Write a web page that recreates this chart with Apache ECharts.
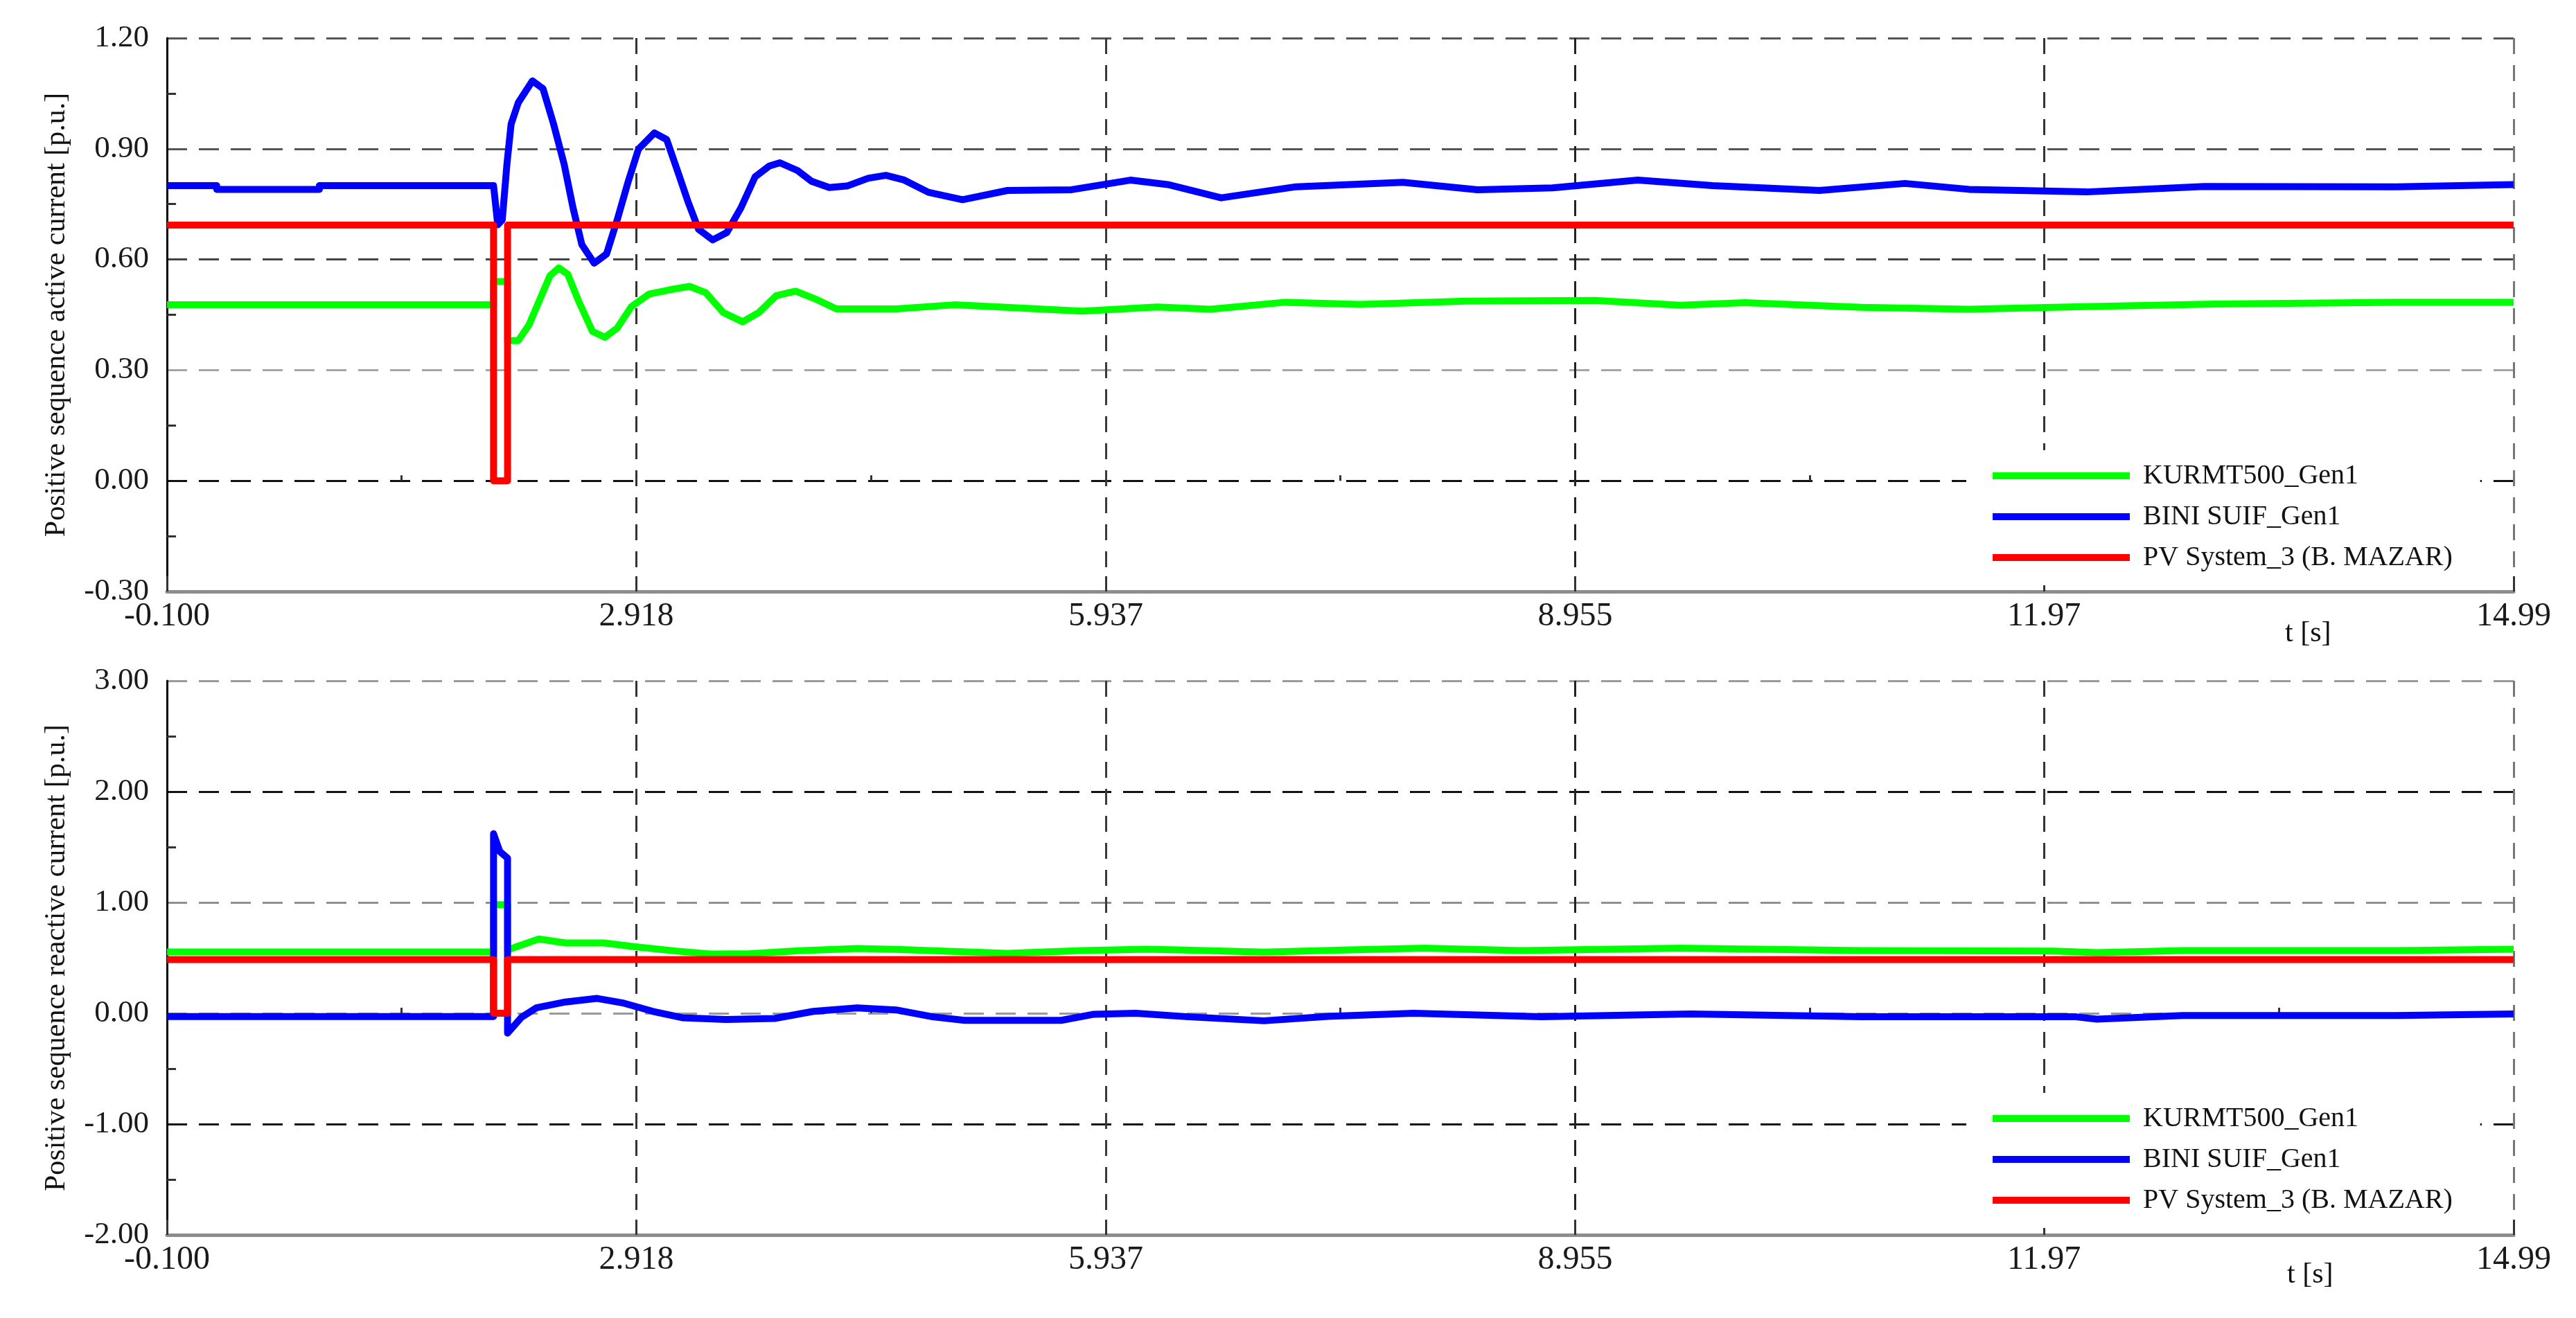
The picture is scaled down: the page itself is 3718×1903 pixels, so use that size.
<!DOCTYPE html>
<html><head><meta charset="utf-8">
<script src="https://cdn.jsdelivr.net/npm/echarts@6/dist/echarts.min.js"></script>
<style>html,body{margin:0;padding:0;background:#fff}#c{width:3718px;height:1903px}</style>
</head><body><div id="c"></div>
<script>
// ---------- data ----------
const seriesNames = ['KURMT500_Gen1', 'BINI SUIF_Gen1', 'PV System_3 (B. MAZAR)'];
const seriesColors = ['#00ff00', '#0000ff', '#ff0000'];

const xTicks = [-0.1, 2.918, 5.937, 8.955, 11.97, 14.99];
const xTickLabels = ['-0.100', '2.918', '5.937', '8.955', '11.97', '14.99'];
const xMinorTicks = [1.409, 4.4275, 7.446, 10.4625, 13.48];
const xName = 't [s]';

const activeTickLabels = ['-0.30', '0.00', '0.30', '0.60', '0.90', '1.20'];
const reactiveTickLabels = ['-2.00', '-1.00', '0.00', '1.00', '2.00', '3.00'];
const activeAxisName = 'Positive sequence active current [p.u.]';
const reactiveAxisName = 'Positive sequence reactive current [p.u.]';

// [time s, value p.u.]
const activeKurmt = [[-0.1,0.477],[2.0,0.477],[2.0,0.54],[2.09,0.54],[2.09,0.38],[2.159,0.38],[2.227,0.422],[2.295,0.489],[2.363,0.556],[2.42,0.577],[2.477,0.56],[2.545,0.489],[2.636,0.405],[2.716,0.389],[2.795,0.414],[2.886,0.472],[3.0,0.506],[3.136,0.518],[3.261,0.527],[3.364,0.51],[3.477,0.456],[3.602,0.431],[3.705,0.456],[3.818,0.502],[3.943,0.514],[4.068,0.493],[4.205,0.466],[4.591,0.466],[4.96,0.477],[5.3,0.47],[5.786,0.46],[6.267,0.471],[6.61,0.465],[7.09,0.484],[7.572,0.478],[8.259,0.487],[9.083,0.489],[9.633,0.476],[10.045,0.483],[10.8,0.47],[11.488,0.465],[12.175,0.4715],[13.068,0.479],[14.236,0.484],[14.99,0.484]];
const activeBini = [[-0.1,0.8],[0.22,0.8],[0.22,0.79],[0.88,0.79],[0.88,0.8],[2.0,0.8],[2.027,0.694],[2.056,0.707],[2.086,0.858],[2.113,0.967],[2.159,1.025],[2.25,1.084],[2.318,1.063],[2.386,0.967],[2.454,0.858],[2.511,0.74],[2.568,0.64],[2.647,0.59],[2.727,0.615],[2.795,0.707],[2.863,0.807],[2.932,0.899],[3.034,0.943],[3.113,0.925],[3.182,0.841],[3.25,0.757],[3.318,0.682],[3.409,0.653],[3.5,0.673],[3.591,0.74],[3.682,0.824],[3.773,0.853],[3.841,0.862],[3.955,0.841],[4.045,0.812],[4.159,0.795],[4.273,0.799],[4.409,0.82],[4.523,0.828],[4.636,0.816],[4.796,0.782],[5.016,0.762],[5.305,0.787],[5.717,0.789],[6.095,0.815],[6.335,0.803],[6.679,0.767],[7.16,0.797],[7.847,0.809],[8.328,0.789],[8.809,0.794],[9.358,0.815],[9.839,0.8],[10.526,0.787],[11.076,0.806],[11.488,0.79],[12.244,0.783],[12.999,0.798],[14.236,0.797],[14.99,0.803]];
const activePv = [[-0.1,0.693],[2.0,0.693],[2.0,0.0],[2.09,0.0],[2.09,0.693],[14.99,0.693]];

const reactiveKurmt = [[-0.1,0.553],[2.0,0.553],[2.0,0.98],[2.09,0.98],[2.09,0.57],[2.15,0.602],[2.291,0.67],[2.463,0.634],[2.713,0.634],[2.9,0.602],[3.182,0.56],[3.4,0.534],[3.65,0.538],[3.963,0.564],[4.338,0.585],[4.588,0.577],[4.893,0.561],[5.305,0.54],[5.786,0.566],[6.198,0.578],[6.404,0.572],[6.954,0.551],[7.503,0.572],[7.984,0.587],[8.603,0.566],[9.633,0.587],[10.8,0.566],[12.038,0.561],[12.312,0.547],[12.862,0.566],[14.236,0.566],[14.99,0.578]];
const reactiveBini = [[-0.1,-0.03],[2.0,-0.03],[2.0,1.62],[2.04,1.46],[2.09,1.4],[2.09,-0.18],[2.18,-0.036],[2.275,0.049],[2.463,0.102],[2.666,0.134],[2.838,0.091],[3.025,0.017],[3.213,-0.04],[3.494,-0.057],[3.807,-0.047],[4.057,0.017],[4.338,0.049],[4.588,0.03],[4.824,-0.032],[5.03,-0.064],[5.65,-0.064],[5.855,-0.01],[6.13,0.0],[6.47,-0.032],[6.954,-0.068],[7.366,-0.028],[7.915,0.0],[8.74,-0.032],[9.7,-0.006],[10.8,-0.032],[12.175,-0.032],[12.31,-0.053],[12.862,-0.021],[14.236,-0.021],[14.99,-0.006]];
const reactivePv = [[-0.1,0.485],[2.0,0.485],[2.0,0.0],[2.09,0.0],[2.09,0.485],[14.99,0.485]];

// ---------- chart ----------
const FONT = "'Liberation Serif', 'Times New Roman', serif";
const chart = echarts.init(document.getElementById('c'), null, {renderer: 'canvas'});

function pickLabel(v, ticks, labels) {
  let best = 0, bd = Infinity;
  ticks.forEach((t, i) => { const d = Math.abs(t - v); if (d < bd) { bd = d; best = i; } });
  return labels[best];
}

function mainX(gridIndex) {
  return {
    type: 'value', gridIndex, min: -0.1, max: 14.99, position: 'bottom',
    axisLine: {show: true, onZero: false, lineStyle: {color: '#8c8c8c', width: 5}},
    axisTick: {show: true, inside: true, length: 22, customValues: xTicks, lineStyle: {color: '#333', width: 3}},
    axisLabel: {show: true, customValues: xTicks, margin: 12, fontFamily: FONT, fontSize: 48, color: '#1a1a1a',
      formatter: v => pickLabel(v, xTicks, xTickLabels)},
    splitLine: {show: true, lineStyle: {type: [23, 16], width: 3, color: ['#222', '#333', '#3a3a3a', '#222', '#333', '#777']}}
  };
}
function minorX(gridIndex) {
  return {
    type: 'value', gridIndex, min: -0.1, max: 14.99, position: 'bottom',
    axisLine: {show: false},
    axisTick: {show: true, inside: true, length: 8, customValues: xMinorTicks, lineStyle: {color: '#333', width: 3}},
    axisLabel: {show: false},
    splitLine: {show: false}
  };
}
function yAx(gridIndex, min, max, interval, labels, name, splitColors) {
  const ticks = labels.map((l, i) => min + i * interval);
  return {
    type: 'value', gridIndex, min, max, interval,
    name, nameLocation: 'middle', nameGap: 138,
    nameTextStyle: {fontFamily: FONT, fontSize: 42, color: '#111'},
    axisLine: {show: true, onZero: false, lineStyle: {color: '#000', width: 3}},
    axisTick: {show: false, inside: true},
    minorTick: {show: true, splitNumber: 2, length: 13, lineStyle: {color: '#333', width: 3}},
    axisLabel: {margin: 26, fontFamily: FONT, fontSize: 45, color: '#1a1a1a',
      formatter: v => pickLabel(v, ticks, labels)},
    splitLine: {show: true, lineStyle: {type: [29, 17], width: 3, color: splitColors}}
  };
}
function lineSeries(name, data, color, xi, yi) {
  return {
    type: 'line', name, data, xAxisIndex: xi, yAxisIndex: yi,
    showSymbol: false, symbol: 'none', smooth: false,
    lineStyle: {color, width: 10, join: 'round'}, itemStyle: {color},
    emphasis: {disabled: true}
  };
}
function legendAt(top) {
  return {
    data: seriesNames, orient: 'vertical', left: 2838, top,
    backgroundColor: '#ffffff',
    padding: [17, 40, 20, 38],
    icon: 'rect', itemWidth: 198, itemHeight: 10, itemGap: 19,
    textStyle: {fontFamily: FONT, fontSize: 40, color: '#111', lineHeight: 36, padding: [0, 0, 0, 14]},
    selectedMode: false
  };
}

const option = {
  backgroundColor: '#ffffff',
  animation: false,
  grid: [
    {left: 241, right: 90, top: 55, height: 799},
    {left: 241, right: 90, top: 983, height: 800}
  ],
  xAxis: [mainX(0), minorX(0), mainX(1), minorX(1)],
  yAxis: [
    yAx(0, -0.3, 1.2, 0.3, activeTickLabels, activeAxisName, ['#999', '#111', '#a5a5a5', '#444', '#555', '#555']),
    yAx(1, -2, 3, 1, reactiveTickLabels, reactiveAxisName, ['#999', '#111', '#999', '#8f8f8f', '#111', '#9a9a9a'])
  ],
  legend: [legendAt(650), legendAt(1578)],
  graphic: [
    {type: 'text', left: 3298, top: 894, z: 100, style: {text: xName, font: "42px " + FONT, fill: '#111'}},
    {type: 'text', left: 3301, top: 1820, z: 100, style: {text: xName, font: "42px " + FONT, fill: '#111'}}
  ],
  series: [
    lineSeries(seriesNames[0], activeKurmt, seriesColors[0], 0, 0),
    lineSeries(seriesNames[1], activeBini, seriesColors[1], 0, 0),
    lineSeries(seriesNames[2], activePv, seriesColors[2], 0, 0),
    lineSeries(seriesNames[0], reactiveKurmt, seriesColors[0], 2, 1),
    lineSeries(seriesNames[1], reactiveBini, seriesColors[1], 2, 1),
    lineSeries(seriesNames[2], reactivePv, seriesColors[2], 2, 1)
  ]
};
chart.setOption(option);
</script>
</body></html>
